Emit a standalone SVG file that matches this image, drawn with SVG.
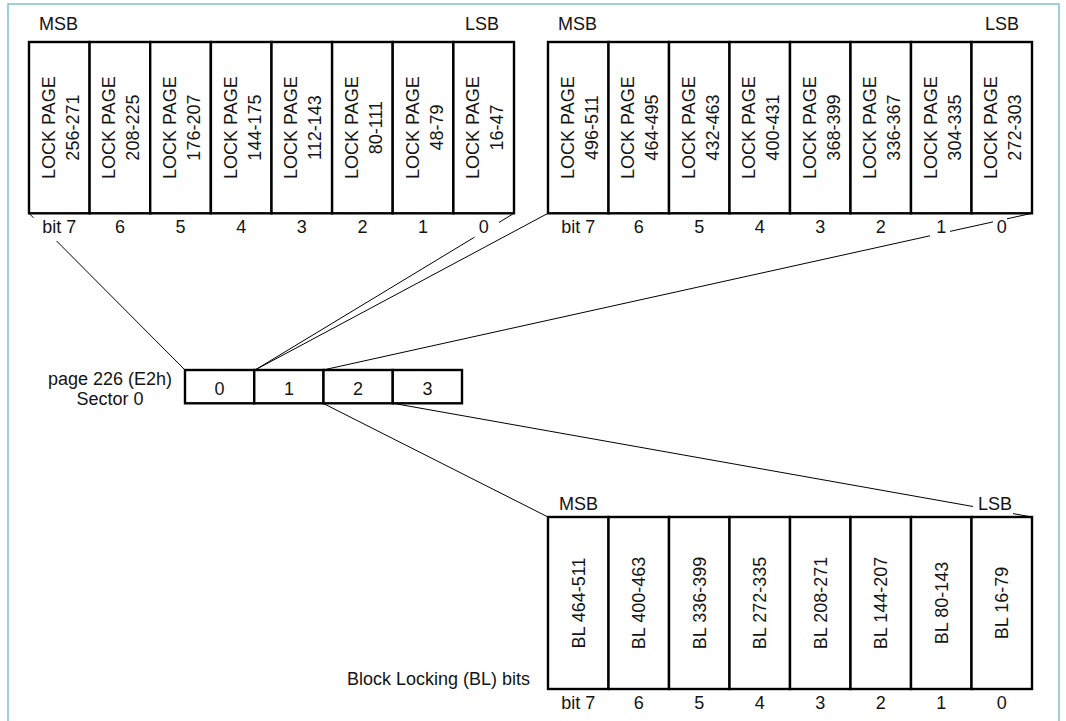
<svg xmlns="http://www.w3.org/2000/svg" width="1066" height="721" viewBox="0 0 1066 721">
<style>
  text { font-family: "Liberation Sans", Arial, sans-serif; font-size: 18px; fill: #141414; }
  .mid { text-anchor: middle; }
  .end { text-anchor: end; }
  .cell { fill: #ffffff; stroke: #000000; stroke-width: 2.4; }
  .conn { fill: none; stroke: #000000; stroke-width: 1; }
  .frame { fill: #ffffff; stroke: #88c4cf; stroke-width: 1.6; }
</style>
<rect width="1066" height="721" fill="#ffffff"/>
<rect class="frame" x="8" y="4" width="1051" height="740"/>

<g id="connectors">
  <path class="conn" d="M29,213.3 L33.5,217.8 M56.6,241 L185,370"/>
  <path class="conn" d="M514,213.3 L499,222.4 M474.5,237.2 L255,370"/>
  <path class="conn" d="M548,213.3 L255,370"/>
  <path class="conn" d="M1032,213.3 L1007,218.8 M993,221.9 L950,231.4 M930,235.8 L323,370"/>
  <path class="conn" d="M323,403.3 L548,517"/>
  <path class="conn" d="M393,403.3 L973,506.5 M1013,513.6 L1032,517"/>
</g>

<g id="register-top-left">
  <rect class="cell" x="29" y="42" width="60.6" height="171.3"/>
  <rect class="cell" x="89.6" y="42" width="60.6" height="171.3"/>
  <rect class="cell" x="150.2" y="42" width="60.6" height="171.3"/>
  <rect class="cell" x="210.9" y="42" width="60.6" height="171.3"/>
  <rect class="cell" x="271.5" y="42" width="60.6" height="171.3"/>
  <rect class="cell" x="332.1" y="42" width="60.6" height="171.3"/>
  <rect class="cell" x="392.7" y="42" width="60.6" height="171.3"/>
  <rect class="cell" x="453.4" y="42" width="60.6" height="171.3"/>
  <text class="mid" transform="translate(59.3,127.6) rotate(-90)"><tspan x="0" y="-4.5">LOCK PAGE</tspan><tspan x="0" y="19.5">256-271</tspan></text>
  <text class="mid" transform="translate(119.9,127.6) rotate(-90)"><tspan x="0" y="-4.5">LOCK PAGE</tspan><tspan x="0" y="19.5">208-225</tspan></text>
  <text class="mid" transform="translate(180.6,127.6) rotate(-90)"><tspan x="0" y="-4.5">LOCK PAGE</tspan><tspan x="0" y="19.5">176-207</tspan></text>
  <text class="mid" transform="translate(241.2,127.6) rotate(-90)"><tspan x="0" y="-4.5">LOCK PAGE</tspan><tspan x="0" y="19.5">144-175</tspan></text>
  <text class="mid" transform="translate(301.8,127.6) rotate(-90)"><tspan x="0" y="-4.5">LOCK PAGE</tspan><tspan x="0" y="19.5">112-143</tspan></text>
  <text class="mid" transform="translate(362.4,127.6) rotate(-90)"><tspan x="0" y="-4.5">LOCK PAGE</tspan><tspan x="0" y="19.5">80-111</tspan></text>
  <text class="mid" transform="translate(423.1,127.6) rotate(-90)"><tspan x="0" y="-4.5">LOCK PAGE</tspan><tspan x="0" y="19.5">48-79</tspan></text>
  <text class="mid" transform="translate(483.7,127.6) rotate(-90)"><tspan x="0" y="-4.5">LOCK PAGE</tspan><tspan x="0" y="19.5">16-47</tspan></text>
  <text x="39" y="30">MSB</text>
  <text class="end" x="499" y="30">LSB</text>
  <text class="mid" x="59.3" y="233">bit 7</text>
  <text class="mid" x="119.9" y="233">6</text>
  <text class="mid" x="180.6" y="233">5</text>
  <text class="mid" x="241.2" y="233">4</text>
  <text class="mid" x="301.8" y="233">3</text>
  <text class="mid" x="362.4" y="233">2</text>
  <text class="mid" x="423.1" y="233">1</text>
  <text class="mid" x="483.7" y="233">0</text>
</g>

<g id="register-top-right">
  <rect class="cell" x="548" y="42" width="60.5" height="171.3"/>
  <rect class="cell" x="608.5" y="42" width="60.5" height="171.3"/>
  <rect class="cell" x="669" y="42" width="60.5" height="171.3"/>
  <rect class="cell" x="729.5" y="42" width="60.5" height="171.3"/>
  <rect class="cell" x="790" y="42" width="60.5" height="171.3"/>
  <rect class="cell" x="850.5" y="42" width="60.5" height="171.3"/>
  <rect class="cell" x="911" y="42" width="60.5" height="171.3"/>
  <rect class="cell" x="971.5" y="42" width="60.5" height="171.3"/>
  <text class="mid" transform="translate(578.25,127.6) rotate(-90)"><tspan x="0" y="-4.5">LOCK PAGE</tspan><tspan x="0" y="19.5">496-511</tspan></text>
  <text class="mid" transform="translate(638.75,127.6) rotate(-90)"><tspan x="0" y="-4.5">LOCK PAGE</tspan><tspan x="0" y="19.5">464-495</tspan></text>
  <text class="mid" transform="translate(699.25,127.6) rotate(-90)"><tspan x="0" y="-4.5">LOCK PAGE</tspan><tspan x="0" y="19.5">432-463</tspan></text>
  <text class="mid" transform="translate(759.75,127.6) rotate(-90)"><tspan x="0" y="-4.5">LOCK PAGE</tspan><tspan x="0" y="19.5">400-431</tspan></text>
  <text class="mid" transform="translate(820.25,127.6) rotate(-90)"><tspan x="0" y="-4.5">LOCK PAGE</tspan><tspan x="0" y="19.5">368-399</tspan></text>
  <text class="mid" transform="translate(880.75,127.6) rotate(-90)"><tspan x="0" y="-4.5">LOCK PAGE</tspan><tspan x="0" y="19.5">336-367</tspan></text>
  <text class="mid" transform="translate(941.25,127.6) rotate(-90)"><tspan x="0" y="-4.5">LOCK PAGE</tspan><tspan x="0" y="19.5">304-335</tspan></text>
  <text class="mid" transform="translate(1001.75,127.6) rotate(-90)"><tspan x="0" y="-4.5">LOCK PAGE</tspan><tspan x="0" y="19.5">272-303</tspan></text>
  <text x="558" y="30">MSB</text>
  <text class="end" x="1019" y="30">LSB</text>
  <text class="mid" x="578.25" y="233">bit 7</text>
  <text class="mid" x="638.75" y="233">6</text>
  <text class="mid" x="699.25" y="233">5</text>
  <text class="mid" x="759.75" y="233">4</text>
  <text class="mid" x="820.25" y="233">3</text>
  <text class="mid" x="880.75" y="233">2</text>
  <text class="mid" x="941.25" y="233">1</text>
  <text class="mid" x="1001.75" y="233">0</text>
</g>

<g id="sector-bytes">
  <rect class="cell" x="185" y="370" width="69.25" height="33.3"/>
  <rect class="cell" x="254.25" y="370" width="69.25" height="33.3"/>
  <rect class="cell" x="323.5" y="370" width="69.25" height="33.3"/>
  <rect class="cell" x="392.75" y="370" width="69.25" height="33.3"/>
  <text class="mid" x="219.6" y="394.5">0</text>
  <text class="mid" x="288.9" y="394.5">1</text>
  <text class="mid" x="358.1" y="394.5">2</text>
  <text class="mid" x="427.4" y="394.5">3</text>
  <text class="mid" x="110" y="385">page 226 (E2h)</text>
  <text class="mid" x="110" y="405">Sector 0</text>
</g>

<g id="register-bottom">
  <rect class="cell" x="548" y="517" width="60.5" height="172"/>
  <rect class="cell" x="608.5" y="517" width="60.5" height="172"/>
  <rect class="cell" x="669" y="517" width="60.5" height="172"/>
  <rect class="cell" x="729.5" y="517" width="60.5" height="172"/>
  <rect class="cell" x="790" y="517" width="60.5" height="172"/>
  <rect class="cell" x="850.5" y="517" width="60.5" height="172"/>
  <rect class="cell" x="911" y="517" width="60.5" height="172"/>
  <rect class="cell" x="971.5" y="517" width="60.5" height="172"/>
  <text class="mid" transform="translate(578.25,603) rotate(-90)" y="6.5">BL 464-511</text>
  <text class="mid" transform="translate(638.75,603) rotate(-90)" y="6.5">BL 400-463</text>
  <text class="mid" transform="translate(699.25,603) rotate(-90)" y="6.5">BL 336-399</text>
  <text class="mid" transform="translate(759.75,603) rotate(-90)" y="6.5">BL 272-335</text>
  <text class="mid" transform="translate(820.25,603) rotate(-90)" y="6.5">BL 208-271</text>
  <text class="mid" transform="translate(880.75,603) rotate(-90)" y="6.5">BL 144-207</text>
  <text class="mid" transform="translate(941.25,603) rotate(-90)" y="6.5">BL 80-143</text>
  <text class="mid" transform="translate(1001.75,603) rotate(-90)" y="6.5">BL 16-79</text>
  <text x="559" y="510">MSB</text>
  <text class="end" x="1012" y="510">LSB</text>
  <text class="mid" x="578.25" y="709">bit 7</text>
  <text class="mid" x="638.75" y="709">6</text>
  <text class="mid" x="699.25" y="709">5</text>
  <text class="mid" x="759.75" y="709">4</text>
  <text class="mid" x="820.25" y="709">3</text>
  <text class="mid" x="880.75" y="709">2</text>
  <text class="mid" x="941.25" y="709">1</text>
  <text class="mid" x="1001.75" y="709">0</text>
  <text class="end" x="530" y="685">Block Locking (BL) bits</text>
</g>
</svg>
